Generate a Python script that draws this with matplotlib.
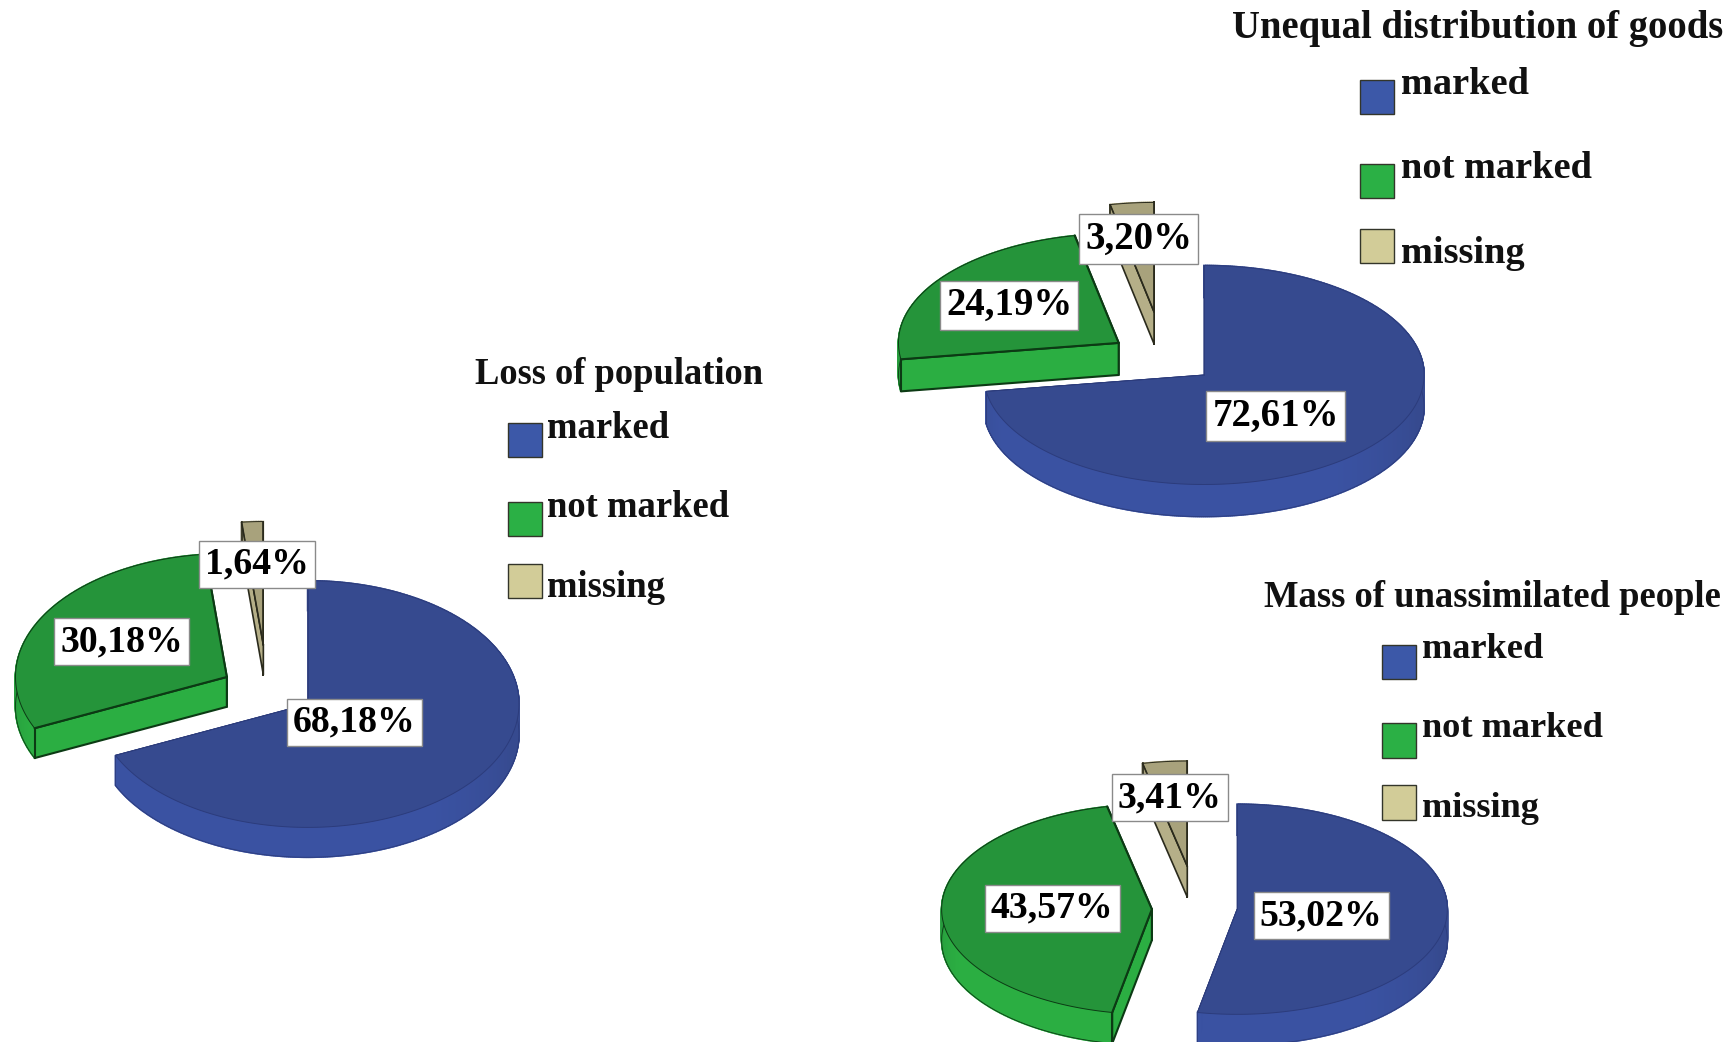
import numpy as np
import matplotlib
matplotlib.use("Agg")
import matplotlib.pyplot as plt
from matplotlib.patches import Polygon, Rectangle
from matplotlib.colors import to_rgb

# ---------- data ----------
categories = ["marked", "not marked", "missing"]
titles = ["Loss of population", "Unequal distribution of goods", "Mass of unassimilated people"]
loss_values = [68.18, 30.18, 1.64]
unequal_values = [72.61, 24.19, 3.20]
mass_values = [53.02, 43.57, 3.41]
value_sets = [loss_values, unequal_values, mass_values]

# ---------- layout (canvas units: 1568 x 942) ----------
layouts = [
    dict(c=(278, 636.5), rx=191, ry=111.5, d=27,
         off=[(0, 0), (-73, -24.5), (-40, -53.5)],
         lab=[(320, 653), (110, 580), (232, 510)],
         title=(559, 339), sw_x=459, sw_y=[382, 454, 510], txt_x=494, txt_y=[387, 459, 531],
         title_fs=26.3, cat_fs=26.4, val_fs=27.2),
    dict(c=(1088, 339), rx=199, ry=99, d=29,
         off=[(0, 0), (-77, -29), (-45, -57)],
         lab=[(1153, 376), (912, 276), (1029, 216)],
         title=(1335, 26), sw_x=1229, sw_y=[72, 148, 207], txt_x=1266, txt_y=[76, 152, 229],
         title_fs=27.8, cat_fs=27.6, val_fs=28.0),
    dict(c=(1118, 822), rx=190, ry=95, d=28,
         off=[(0, 0), (-77, 0), (-45, -39)],
         lab=[(1194, 828), (951, 821), (1057, 721)],
         title=(1349, 540), sw_x=1249, sw_y=[583, 654, 710], txt_x=1285, txt_y=[587, 659, 731],
         title_fs=26.4, cat_fs=26.2, val_fs=27.2),
]
SW = 31
top_col = ["#364a8f", "#25943a", "#a8a27c"]
side_col = ["#3a52a2", "#2bae42", "#b5af88"]
face_col = ["#2f4288", "#2bae42", "#b5af88"]
swatch_col = ["#3c58a8", "#2bb045", "#d2cc98"]
edge_col = ["#2c3c7c", "#0c3a14", "#2a2a1c"]
radius_w = [0.6, 1.5, 1.2]

plt.rcParams["font.family"] = ["Liberation Serif", "DejaVu Serif"]
plt.rcParams["font.weight"] = "bold"

fig = plt.figure(figsize=(17.35, 10.42), dpi=100, facecolor="white")
ax = fig.add_axes([0, 0, 1, 1])
ax.set_xlim(0, 1568)
ax.set_ylim(942, 0)
ax.axis("off")


def arc(cx, cy, rx, ry, a0, a1):
    t = np.radians(np.linspace(a0, a1, max(int(abs(a1 - a0)) * 2, 8)))
    return t, np.column_stack([cx + rx * np.sin(t), cy - ry * np.cos(t)])


def draw_slice(cx, cy, rx, ry, d, a0, a1, i, z):
    t, pts = arc(cx, cy, rx, ry, a0, a1)
    apex = np.array([cx, cy])
    down = np.array([0, d])
    lw = radius_w[i]
    # end-radius face first so that the start-radius face lies over it
    for outer in (pts[-1], pts[0]):
        ax.add_patch(Polygon([apex, outer, outer + down, apex + down], closed=True,
                             facecolor=face_col[i], edgecolor=edge_col[i], linewidth=lw,
                             joinstyle="round", zorder=z))
    # rim shaded by direction: lightest toward the viewer
    dark, light = np.array(to_rgb(top_col[i])), np.array(to_rgb(side_col[i]))
    for k in range(len(pts) - 1):
        w = np.clip(-np.cos(t[k] - np.radians(15)) * 1.6, 0, 1)
        col = dark + (light - dark) * w
        ax.add_patch(Polygon([pts[k], pts[k + 1], pts[k + 1] + down, pts[k] + down], closed=True,
                             facecolor=col, edgecolor=col, linewidth=1.2, zorder=z + 0.1))
    ax.plot(*(pts + down).T, color=edge_col[i], lw=0.6, zorder=z + 0.1)
    for outer in (pts[0], pts[-1]):
        ax.plot([outer[0], outer[0]], [outer[1], outer[1] + d], color=edge_col[i], lw=lw, zorder=z + 0.15)
    # top surface
    ax.add_patch(Polygon(np.vstack([apex, pts]), closed=True, facecolor=top_col[i],
                         edgecolor=edge_col[i], linewidth=0.7, zorder=z + 0.2))
    for outer in (pts[0], pts[-1]):
        ax.plot([cx, outer[0]], [cy, outer[1]], color=edge_col[i], lw=lw, zorder=z + 0.25,
                solid_capstyle="round")


for values, lay, title in zip(value_sets, layouts, titles):
    cx, cy = lay["c"]
    start = 0.0
    for i, v in enumerate(values):
        sweep = v / sum(values) * 360
        ox, oy = lay["off"][i]
        draw_slice(cx + ox, cy + oy, lay["rx"], lay["ry"], lay["d"], start, start + sweep, i, 2 + (2 - i))
        start += sweep
        ax.text(*lay["lab"][i], f"{v:.2f}%".replace(".", ","), ha="center", va="center",
                fontsize=lay["val_fs"], color="black", zorder=10,
                bbox=dict(boxstyle="square,pad=0.16", facecolor="white", edgecolor="#8a8a8a", linewidth=1.0))
    ax.text(*lay["title"], title, ha="center", va="center", fontsize=lay["title_fs"], color="#111111", zorder=10)
    for i, cat in enumerate(categories):
        ax.add_patch(Rectangle((lay["sw_x"], lay["sw_y"][i]), SW, SW, facecolor=swatch_col[i],
                               edgecolor="#33352a", linewidth=1.0, zorder=5))
        ax.text(lay["txt_x"], lay["txt_y"][i], cat, ha="left", va="center", fontsize=lay["cat_fs"],
                color="#111111", zorder=10)

fig.savefig("out.png", dpi=100, facecolor="white")
